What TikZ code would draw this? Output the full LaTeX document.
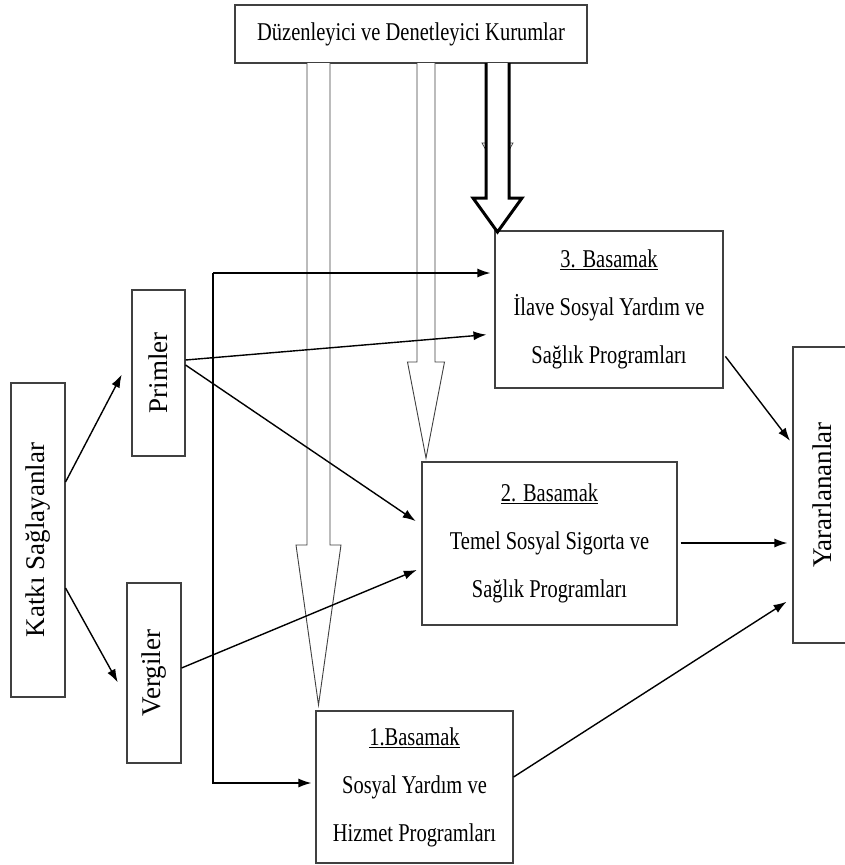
\documentclass[tikz,border=0pt]{standalone}
\usepackage{fontspec}
\setmainfont{Liberation Serif}
\newfontfamily\narrowfont[FakeStretch=0.8]{Liberation Serif}
\usetikzlibrary{arrows.meta}
\definecolor{edges}{rgb}{0.25,0.25,0.25}

\tikzset{
  box/.style={draw=edges, line width=1.1pt, inner sep=0pt, align=center,
    font=\narrowfont\fontsize{25.6}{48}\selectfont},
  sidebox/.style={draw=edges, line width=1.1pt, inner sep=0pt},
  sidelabel/.style={rotate=90, font=\fontsize{27}{30}\selectfont},
  arr/.style={-{Latex[length=13pt,width=9pt]}, line width=1.4pt},
  hollow/.style={draw=edges, line width=0.9pt, fill=white},
}

\begin{document}
\begin{tikzpicture}[x=1pt,y=-1pt]
    \useasboundingbox (0,0) rectangle (845,865);

    % boxes of the three levels
    \node[box, minimum width=352, minimum height=58] (kurum) at (411,34) {Düzenleyici ve Denetleyici Kurumlar};
    \node[box, minimum width=228, minimum height=157] (b3) at (609,309.5) {\underline{3. Basamak}\\İlave Sosyal Yardım ve\\Sağlık Programları};
    \node[box, minimum width=255, minimum height=163] (b2) at (549.5,543.5) {\underline{2. Basamak}\\Temel Sosyal Sigorta ve\\Sağlık Programları};
    \node[box, minimum width=197, minimum height=152] (b1) at (414.5,787) {\underline{1.Basamak}\\Sosyal Yardım ve\\Hizmet Programları};

    % upright boxes at the sides
    \node[sidebox, minimum width=54, minimum height=314] (katki) at (38,540) {};
    \node[sidelabel] at (katki) {Katkı Sağlayanlar};
    \node[sidebox, minimum width=53, minimum height=166] (primler) at (158.5,373) {};
    \node[sidelabel] at (primler) {Primler};
    \node[sidebox, minimum width=54, minimum height=180] (vergiler) at (154,673) {};
    \node[sidelabel] at (vergiler) {Vergiler};
    \node[sidebox, minimum width=58, minimum height=296] (yar) at (822,495) {};
    \node[sidelabel] at (yar) {Yararlananlar};

    % hollow block arrows coming down from the top box
    % {centre x / half shaft / half head / head start / tip}
    \draw[hollow, line width=0.7pt] (486,63) -- (486,143) -- (482,143) -- (497.5,171) -- (513,143) -- (509,143) -- (509,63);
    \foreach \xc/\hs/\hh/\yh/\yt/\lw/\col in {318.5/11.5/22.5/545/705/0.9/edges, 426/9/18.5/362/458/0.9/edges, 497.5/11.5/24.5/198/232/3/black}
    {
      \draw[hollow, line width=\lw pt, draw=\col] (\xc-\hs,63) -- (\xc-\hs,\yh) -- (\xc-\hh,\yh) -- (\xc,\yt)
        -- (\xc+\hh,\yh) -- (\xc+\hs,\yh) -- (\xc+\hs,63);
    }

    % contributions
    \draw[arr, shorten >=21pt] (katki.east |- 0,482) -- (primler.west |- 0,356);
    \draw[arr, shorten >=18pt] (katki.east |- 0,588) -- (vergiler.west |- 0,698);
    \draw[arr, shorten >=8pt] (primler.east |- 0,360) -- (b3.west |- 0,334);
    \draw[arr, shorten >=7pt] (primler.east |- 0,365) -- (b2.west |- 0,525);
    \draw[arr, shorten >=5pt] (vergiler.east |- 0,668) -- (b2.west |- 0,568);

    % line feeding first and third level
    \coordinate (elbow) at (213,273);
    \draw[arr, shorten >=4pt] (elbow) -- (b3.west |- elbow);
    \draw[arr, shorten >=4pt] (elbow) |- (b1.west |- 0,783);

    % to the beneficiaries
    \draw[arr, shorten <=3pt, shorten >=4pt] (b3.east |- 0,354) -- (yar.west |- 0,444);
    \draw[arr, shorten <=3pt, shorten >=5pt] (b2.east |- 0,543) -- (yar.west |- 0,543);
    \draw[arr, shorten >=7pt] (b1.east |- 0,777) -- (yar.west |- 0,598);
\end{tikzpicture}
\end{document}
